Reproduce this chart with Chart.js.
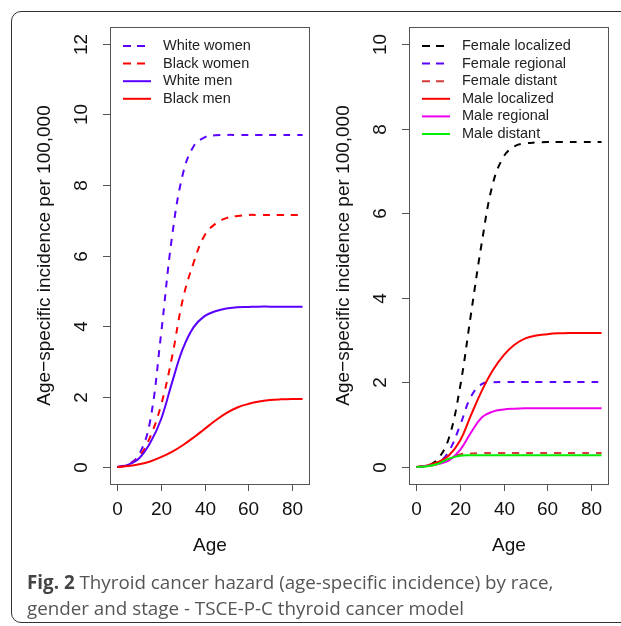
<!DOCTYPE html>
<html lang="en">
<head>
<meta charset="UTF-8">
<title>Thyroid cancer hazard</title>
<script src="https://cdn.jsdelivr.net/npm/chart.js"></script>
<style>
  * { margin: 0; padding: 0; box-sizing: border-box; }
  body { width: 621px; height: 626px; background: #fff; position: relative; overflow: hidden; }
  .frame { position: absolute; left: 11px; top: 11px; width: 640px; height: 612px; border: 1.5px solid #333; border-radius: 10px; }
  #leftWrap { position: absolute; left: 0; top: 0; width: 315px; height: 570px; }
  #rightWrap { position: absolute; left: 315px; top: 0; width: 306px; height: 570px; }
  .caption { position: absolute; left: 27px; top: 569px; font-family: 'Open Sans', sans-serif; font-size: 18.8px; line-height: 26px; color: #555; }
  .caption b { color: #444; }
</style>
</head>
<body>
<div class="frame"></div>
<div id="leftWrap"><canvas id="leftChart" width="315" height="570"></canvas></div>
<div id="rightWrap"><canvas id="rightChart" width="306" height="570"></canvas></div>
<div class="caption"><b>Fig. 2</b> Thyroid cancer hazard (age-specific incidence) by race,<br>gender and stage - TSCE-P-C thyroid cancer model</div>

<script>
// ages shared by every curve
const ages = [0, 5, 10, 15, 20, 25, 30, 35, 40, 45, 50, 55, 60, 65, 70, 75, 80, 85];

// left panel: by race and gender
const whiteWomen = [0, 0.08, 0.36, 1.3, 3.75, 6.5, 8.3, 9.1, 9.35, 9.41, 9.42, 9.42, 9.42, 9.42, 9.42, 9.42, 9.42, 9.42];
const blackWomen = [0, 0.07, 0.3, 0.85, 1.75, 3.1, 4.75, 5.8, 6.57, 6.9, 7.06, 7.12, 7.15, 7.15, 7.15, 7.15, 7.15, 7.15];
const whiteMen   = [0, 0.07, 0.25, 0.68, 1.35, 2.38, 3.35, 3.97, 4.28, 4.42, 4.5, 4.53, 4.54, 4.55, 4.55, 4.55, 4.55, 4.55];
const blackMen   = [0, 0.03, 0.08, 0.16, 0.28, 0.43, 0.62, 0.84, 1.08, 1.32, 1.53, 1.69, 1.79, 1.86, 1.9, 1.92, 1.93, 1.93];

// right panel: by gender and stage
const femaleLocalized = [0, 0.03, 0.2, 0.7, 1.88, 3.6, 5.3, 6.68, 7.33, 7.58, 7.65, 7.67, 7.68, 7.68, 7.68, 7.68, 7.68, 7.68];
const femaleRegional  = [0, 0.03, 0.1, 0.38, 0.98, 1.66, 1.96, 2.0, 2.01, 2.01, 2.01, 2.01, 2.01, 2.01, 2.01, 2.01, 2.01, 2.01];
const femaleDistant   = [0, 0.02, 0.08, 0.2, 0.3, 0.32, 0.33, 0.33, 0.33, 0.33, 0.33, 0.33, 0.33, 0.33, 0.33, 0.33, 0.33, 0.33];
const maleLocalized   = [0, 0.04, 0.12, 0.28, 0.62, 1.22, 1.8, 2.28, 2.64, 2.89, 3.04, 3.11, 3.14, 3.16, 3.17, 3.17, 3.17, 3.17];
const maleRegional    = [0, 0.03, 0.07, 0.16, 0.4, 0.81, 1.17, 1.31, 1.36, 1.38, 1.39, 1.39, 1.39, 1.39, 1.39, 1.39, 1.39, 1.39];
const maleDistant     = [0, 0.02, 0.08, 0.2, 0.27, 0.28, 0.28, 0.28, 0.28, 0.28, 0.28, 0.28, 0.28, 0.28, 0.28, 0.28, 0.28, 0.28];

const xTicks = [0, 20, 40, 60, 80];
const leftYTicks = [0, 2, 4, 6, 8, 10, 12];
const rightYTicks = [0, 2, 4, 6, 8, 10];

const BLUE = '#5a00ff', RED = '#ff0000';

function series(label, values, color, dashed) {
    return {
        label: label,
        data: ages.map((a, i) => ({ x: a, y: values[i] })),
        borderColor: color,
        borderWidth: 2,
        borderDash: dashed ? [7, 7] : [],
        pointRadius: 0,
        fill: false,
        tension: 0.4
    };
}

// R-style box, ticks, labels and legend
const rDecor = {
    id: 'rDecor',
    afterDraw(chart, args, opts) {
        const c = chart.ctx, a = chart.chartArea;
        const xs = chart.scales.x, ys = chart.scales.y;
        c.save();
        c.strokeStyle = '#555';
        c.lineWidth = 1;
        c.strokeRect(a.left + 0.5, a.top + 0.5, a.right - a.left - 1, a.bottom - a.top);
        c.fillStyle = '#111';
        c.font = '19px "Liberation Sans", Arial, sans-serif';
        c.textAlign = 'center';
        c.textBaseline = 'middle';
        xTicks.forEach(v => {
            const px = Math.round(xs.getPixelForValue(v)) + 0.5;
            c.beginPath(); c.moveTo(px, a.bottom); c.lineTo(px, a.bottom + 7); c.stroke();
            c.fillText(String(v), px, 510);
        });
        opts.yTicks.forEach(v => {
            const py = Math.round(ys.getPixelForValue(v)) + 0.5;
            c.beginPath(); c.moveTo(a.left - 7, py); c.lineTo(a.left, py); c.stroke();
            c.save();
            c.translate(a.left - 28, py);
            c.rotate(-Math.PI / 2);
            c.fillText(String(v), 0, 0);
            c.restore();
        });
        c.fillText('Age', (a.left + a.right) / 2, 546);
        c.save();
        c.translate(a.left - 65, (a.top + a.bottom) / 2);
        c.rotate(-Math.PI / 2);
        c.fillText('Age\u2212specific incidence per 100,000', 0, 0);
        c.restore();

        // legend
        c.font = '14.5px "Liberation Sans", Arial, sans-serif';
        c.textAlign = 'left';
        chart.data.datasets.forEach((d, i) => {
            const y = 46 + i * 17.6;
            c.strokeStyle = d.borderColor;
            c.lineWidth = 2;
            c.setLineDash(d.borderDash.length ? [8, 6] : []);
            c.beginPath(); c.moveTo(a.left + 13, y); c.lineTo(a.left + 41, y); c.stroke();
            c.setLineDash([]);
            c.fillStyle = '#222';
            c.fillText(d.label, a.left + 53, y);
        });
        c.restore();
    }
};

function makeChart(id, datasets, yMin, yMax, yTicks, padLeft, padRight) {
    datasets.forEach((d, i) => { d.order = datasets.length - i; });
    return new Chart(document.getElementById(id), {
        type: 'line',
        data: { datasets: datasets },
        options: {
            responsive: false,
            animation: false,
            layout: { padding: { left: padLeft, right: padRight, top: 27, bottom: 86 } },
            scales: {
                x: { type: 'linear', display: false, min: -3.4, max: 88.4 },
                y: { type: 'linear', display: false, min: yMin, max: yMax }
            },
            plugins: {
                legend: { display: false },
                tooltip: { enabled: false },
                rDecor: { yTicks: yTicks }
            }
        },
        plugins: [rDecor]
    });
}

makeChart('leftChart', [
    series('White women', whiteWomen, BLUE, true),
    series('Black women', blackWomen, RED, true),
    series('White men', whiteMen, BLUE, false),
    series('Black men', blackMen, RED, false)
], -0.48, 12.48, leftYTicks, 110, 5);

makeChart('rightChart', [
    series('Female localized', femaleLocalized, '#000000', true),
    series('Female regional', femaleRegional, BLUE, true),
    series('Female distant', femaleDistant, '#d33a3a', true),
    series('Male localized', maleLocalized, RED, false),
    series('Male regional', maleRegional, '#ee00ee', false),
    series('Male distant', maleDistant, '#00ee00', false)
], -0.4, 10.4, rightYTicks, 94, 12);
</script>
</body>
</html>
